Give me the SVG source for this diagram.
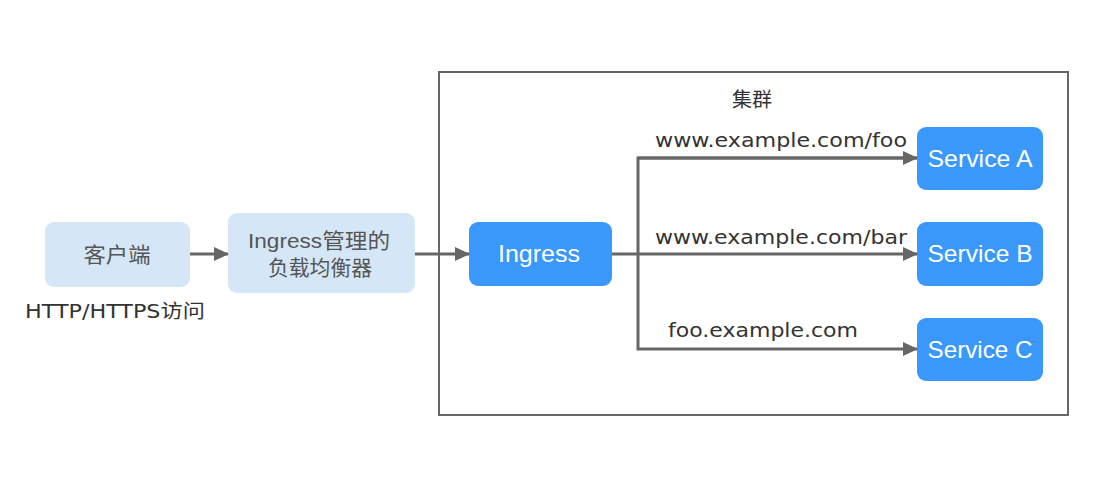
<svg xmlns="http://www.w3.org/2000/svg" width="1110" height="477" viewBox="0 0 1110 477">
<style>
.lt{fill:#d5e7f7}
.dk{fill:#3a98fb}
.t{font-family:"DejaVu Sans","Noto Sans CJK SC",sans-serif;font-size:19px;fill:#333}
.tw{font-family:"Liberation Sans","Noto Sans CJK SC",sans-serif;font-size:24px;fill:#fff;text-anchor:middle}
.tg{font-family:"Liberation Sans","Noto Sans CJK SC",sans-serif;font-size:21px;fill:#555;text-anchor:middle}
.ln{stroke:#666;stroke-width:3;fill:none}
</style>
<defs>
<marker id="ah" markerWidth="15" markerHeight="14" refX="14" refY="7" orient="auto" markerUnits="userSpaceOnUse" viewBox="0 0 15 14">
<path d="M0,0 L15,7 L0,14 z" fill="#666"/>
</marker>
</defs>
<rect width="1110" height="477" fill="#fff"/>
<g id="cluster">
<rect x="439" y="72" width="629" height="343" fill="none" stroke="#666" stroke-width="2"/>
<text class="t" x="752" y="107" text-anchor="middle" style="font-size:20px">集群</text>
</g>
<g id="client">
<rect class="lt" x="45" y="222" width="145" height="65" rx="9"/>
<text class="tg" x="117" y="262" textLength="67" lengthAdjust="spacingAndGlyphs">客户端</text>
</g>
<text class="t" x="25" y="318" textLength="180" lengthAdjust="spacingAndGlyphs">HTTP/HTTPS访问</text>
<g id="lb">
<rect class="lt" x="228" y="213" width="187" height="80" rx="9"/>
<text class="tg" x="319" y="248" textLength="142" lengthAdjust="spacingAndGlyphs">Ingress管理的</text>
<text class="tg" x="320" y="275" textLength="104" lengthAdjust="spacingAndGlyphs">负载均衡器</text>
</g>
<g id="ingress">
<rect class="dk" x="469" y="222" width="143" height="64" rx="9"/>
<text class="tw" x="539" y="262" textLength="82" lengthAdjust="spacingAndGlyphs">Ingress</text>
</g>
<g id="svcA">
<rect class="dk" x="917" y="127" width="126" height="63" rx="9"/>
<text class="tw" x="980" y="167" textLength="105" lengthAdjust="spacingAndGlyphs">Service A</text>
</g>
<g id="svcB">
<rect class="dk" x="917" y="222" width="126" height="64" rx="9"/>
<text class="tw" x="980" y="262" textLength="105" lengthAdjust="spacingAndGlyphs">Service B</text>
</g>
<g id="svcC">
<rect class="dk" x="917" y="318" width="126" height="63" rx="9"/>
<text class="tw" x="980" y="358" textLength="105" lengthAdjust="spacingAndGlyphs">Service C</text>
</g>
<g id="connectors">
<line class="ln" x1="190" y1="254" x2="228" y2="254" marker-end="url(#ah)"/>
<line class="ln" x1="415" y1="254" x2="469" y2="254" marker-end="url(#ah)"/>
<line class="ln" x1="612" y1="254" x2="917" y2="254" marker-end="url(#ah)"/>
<polyline class="ln" points="917,158 638,158 638,349 917,349" marker-end="url(#ah)"/>
<line class="ln" x1="638" y1="158" x2="917" y2="158" marker-end="url(#ah)"/>
<text class="t" x="655" y="147" textLength="252" lengthAdjust="spacingAndGlyphs">www.example.com/foo</text>
<text class="t" x="655" y="244" textLength="252" lengthAdjust="spacingAndGlyphs">www.example.com/bar</text>
<text class="t" x="668" y="337" textLength="190" lengthAdjust="spacingAndGlyphs">foo.example.com</text>
</g>
</svg>
